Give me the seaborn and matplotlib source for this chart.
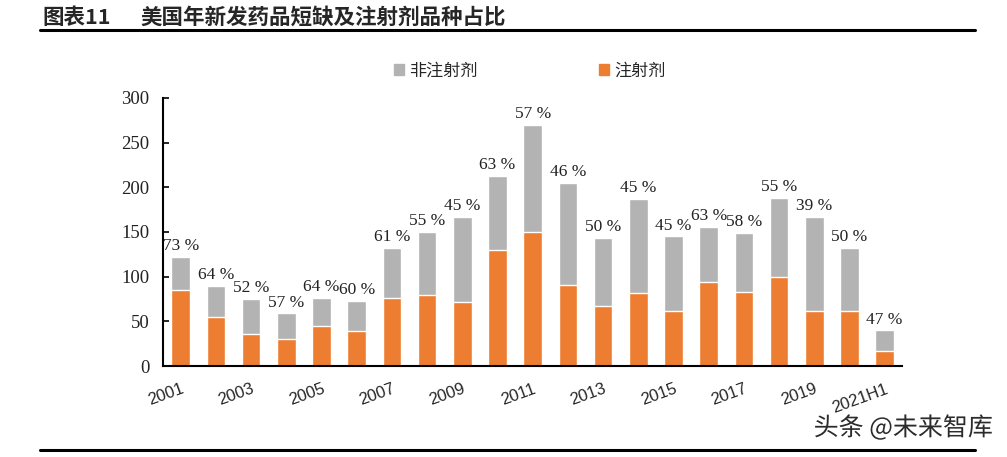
import seaborn as sns
import pandas as pd
import matplotlib.pyplot as plt
from matplotlib.lines import Line2D
from matplotlib.patches import Patch
import matplotlib.patheffects as pe

years = ['2001', '2002', '2003', '2004', '2005', '2006', '2007', '2008', '2009', '2010',
         '2011', '2012', '2013', '2014', '2015', '2016', '2017', '2018', '2019', '2020', '2021H1']
injectable = [85, 55, 36, 30, 45, 39, 76, 80, 72, 130, 150, 91, 67, 82, 62, 94, 83, 100, 62, 62, 17]
non_injectable = [37, 35, 39, 29, 31, 34, 56, 70, 95, 83, 120, 114, 76, 105, 83, 62, 66, 88, 105, 70, 23]
share_labels = ['73 %', '64 %', '52 %', '57 %', '64 %', '60 %', '61 %', '55 %', '45 %', '63 %',
                '57 %', '46 %', '50 %', '45 %', '45 %', '63 %', '58 %', '55 %', '39 %', '50 %', '47 %']

df = pd.DataFrame({'year': years, 'inj': injectable, 'non': non_injectable})
df['total'] = df['inj'] + df['non']

sns.set_style('white')
plt.rcParams['font.family'] = ['Noto Sans CJK SC', 'DejaVu Sans']

GREY = '#B3B3B3'
ORANGE = '#ED7D31'
serif = ['Liberation Serif', 'DejaVu Serif']

fig = plt.figure(figsize=(10.07, 4.57), dpi=100)
ax = fig.add_axes([0.162, 0.199, 0.734, 0.587])

sns.barplot(data=df, x='year', y='total', color=GREY, saturation=1, width=0.53, ax=ax)
sns.barplot(data=df, x='year', y='inj', color=ORANGE, saturation=1, width=0.53, ax=ax)

for i, (t, lab) in enumerate(zip(df['total'], share_labels)):
    ax.annotate(lab, (i, t), xytext=(0, 2), textcoords='offset points',
                ha='center', va='bottom', fontsize=12.5, family=serif, color='#222222')

ax.set_xlim(-0.5, len(years) - 0.5)
ax.set_ylim(0, 300)
ax.set_yticks(range(0, 301, 50))
ax.set_yticklabels([str(v) for v in range(0, 301, 50)], family=serif, fontsize=13.5,
                   color='#222222')
ax.set_xlabel('')
ax.set_ylabel('')

ax.set_xticks(range(0, len(years), 2))
ax.set_xticklabels(years[::2], rotation=20, ha='right', va='top', rotation_mode='anchor',
                   family=['Liberation Sans', 'DejaVu Sans'], fontsize=12)
ax.set_xticks([k - 0.5 for k in range(len(years) + 1)], minor=True)
ax.tick_params(axis='x', which='major', length=0, pad=11)
ax.tick_params(axis='x', which='minor', direction='in', length=4, width=1.2, color='black')
ax.tick_params(axis='y', direction='in', length=4, width=1.2, color='black', pad=10, left=True)

for s in ['top', 'right']:
    ax.spines[s].set_visible(False)
for s in ['left', 'bottom']:
    ax.spines[s].set_color('black')
    ax.spines[s].set_linewidth(1.5)

handles = [Patch(color=GREY, label='非注射剂'), Patch(color=ORANGE, label='注射剂')]
fig.legend(handles=handles, loc='center', bbox_to_anchor=(0.526, 0.845), ncol=2, frameon=False,
           fontsize=12.3, handlelength=0.6, handleheight=0.6, handletextpad=0.3, columnspacing=7.1)

fig.text(0.042, 0.962, '图表11', fontsize=15.5, fontweight='bold', va='center')
fig.text(0.139, 0.962, '美国年新发药品短缺及注射剂品种占比', fontsize=15.5, fontweight='bold',
         va='center')
fig.add_artist(Line2D([0.040, 0.968], [0.934, 0.934], color='black', lw=2.2))
fig.add_artist(Line2D([0.040, 0.968], [0.015, 0.015], color='black', lw=2.2))

fig.text(0.986, 0.063, '头条 @未来智库', fontsize=18, ha='right', va='center', color='#2b2b2b',
         path_effects=[pe.withStroke(linewidth=3, foreground='white')])

fig.savefig('out.png', dpi=100)
